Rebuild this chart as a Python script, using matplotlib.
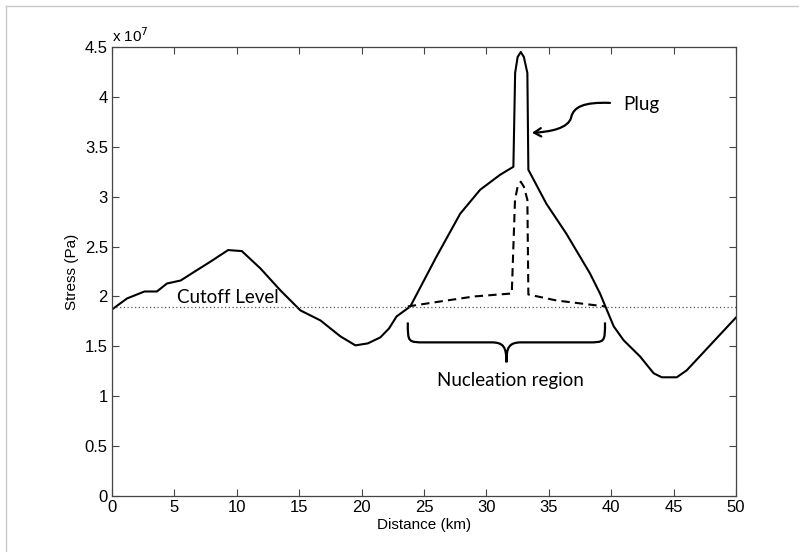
import matplotlib
matplotlib.use("Agg")
import matplotlib.pyplot as plt
from matplotlib.path import Path
from matplotlib.patches import FancyArrowPatch, PathPatch
from matplotlib.lines import Line2D

# stress values in units of 1e7 Pa
solid_km = [0, 1.2, 2.6, 3.6, 4.4, 5.5, 6.5, 7.9, 9.3, 10.4, 11.9, 13.5, 15.1,
            16.7, 18.3, 19.5, 20.5, 21.5, 22.2, 22.8, 23.9, 26.0, 27.9, 29.5, 31.1, 32.16,
            32.3, 32.5, 32.75, 33.0, 33.28, 33.36, 34.8, 36.4, 38.3, 39.1, 40.2,
            41.0, 42.3, 43.4, 44.05, 45.25, 46.05, 50]
solid_stress = [1.87, 1.98, 2.05, 2.05, 2.13, 2.16, 2.24, 2.35, 2.465, 2.455, 2.28,
                2.06, 1.86, 1.76, 1.60, 1.51, 1.53, 1.59, 1.68, 1.80, 1.90, 2.40, 2.83, 3.07,
                3.22, 3.30, 4.24, 4.40, 4.45, 4.40, 4.24, 3.27, 2.93, 2.63, 2.23,
                2.03, 1.70, 1.56, 1.40, 1.23, 1.19, 1.19, 1.26, 1.79]

dashed_km = [23.7, 26.3, 29.0, 32.03, 32.29, 32.5, 32.75, 33.0, 33.28, 33.36, 35.6, 39.5]
dashed_stress = [1.90, 1.95, 2.00, 2.03, 2.97, 3.10, 3.15, 3.10, 2.97, 2.02, 1.96, 1.90]

cutoff = 1.89
region_start, region_end = 23.7, 39.5

x_ticks = [0, 5, 10, 15, 20, 25, 30, 35, 40, 45, 50]
y_ticks = [0, 0.5, 1, 1.5, 2, 2.5, 3, 3.5, 4, 4.5]
y_tick_labels = ['0', '0.5', '1', '1.5', '2', '2.5', '3', '3.5', '4', '4.5']

axis_font = 'Liberation Sans'
note_font = 'Lato'

fig = plt.figure(figsize=(7.99, 5.52), dpi=100)
ax = fig.add_axes([0.1402, 0.1014, 0.7810, 0.8134])

ax.plot(solid_km, solid_stress, color='black', lw=1.5)
ax.plot(dashed_km, dashed_stress, color='black', lw=1.5, linestyle=(0, (4, 2.5)))
ax.axhline(cutoff, color='#555555', lw=0.9, linestyle=(0, (1, 2)))

ax.set_xlim(0, 50)
ax.set_ylim(0, 4.5)
ax.set_xticks(x_ticks)
ax.set_yticks(y_ticks)
ax.set_yticklabels(y_tick_labels)
ax.tick_params(direction='in', length=5, width=0.8, color='#444444',
               top=True, right=True, labelsize=12, pad=3)
for lab in ax.get_xticklabels() + ax.get_yticklabels():
    lab.set_family(axis_font)
for sp in ax.spines.values():
    sp.set_color('#444444')
    sp.set_linewidth(0.9)

ax.set_xlabel('Distance (km)', family=axis_font, fontsize=11, labelpad=2)
ax.set_ylabel('Stress (Pa)', family=axis_font, fontsize=11, labelpad=4)
ax.text(0.0, 1.005, r'x 10$^{7}$', transform=ax.transAxes, family=axis_font,
        fontsize=11, ha='left', va='bottom')

# annotations
ax.text(5.2, 1.99, 'Cutoff Level', family=note_font, fontsize=13.5, ha='left', va='center')
ax.text(31.9, 1.16, 'Nucleation region', family=note_font, fontsize=13.5,
        ha='center', va='center')
ax.text(41.0, 3.92, 'Plug', family=note_font, fontsize=13.5, ha='left', va='center')

# curly brace under the nucleation region
mid = (region_start + region_end) / 2
top_y, bar_y, tip_y = 1.74, 1.54, 1.34
brace = Path(
    [(region_start, top_y), (region_start, bar_y), (region_start, bar_y), (region_start + 1.4, bar_y),
     (mid - 1.2, bar_y),
     (mid - 0.2, bar_y), (mid, bar_y - 0.05), (mid, tip_y),
     (mid, bar_y - 0.05), (mid + 0.2, bar_y), (mid + 1.2, bar_y),
     (region_end - 1.4, bar_y),
     (region_end, bar_y), (region_end, bar_y), (region_end, top_y)],
    [Path.MOVETO, Path.CURVE4, Path.CURVE4, Path.CURVE4,
     Path.LINETO,
     Path.CURVE4, Path.CURVE4, Path.CURVE4,
     Path.CURVE4, Path.CURVE4, Path.CURVE4,
     Path.LINETO,
     Path.CURVE4, Path.CURVE4, Path.CURVE4])
ax.add_patch(PathPatch(brace, fill=False, color='black', lw=1.6))

# wavy arrow pointing at the plug
arrow_path = Path(
    [(39.9, 3.94), (37.8, 3.95), (37.0, 3.90), (36.8, 3.80),
     (36.6, 3.68), (35.0, 3.65), (33.65, 3.64)],
    [Path.MOVETO, Path.CURVE4, Path.CURVE4, Path.CURVE4,
     Path.CURVE4, Path.CURVE4, Path.CURVE4])
ax.add_patch(FancyArrowPatch(path=arrow_path, arrowstyle='->,head_length=5,head_width=3',
                             color='black', lw=1.6))

# light frame of the original screenshot
fig.add_artist(Line2D([6 / 799, 1], [1 - 6 / 552, 1 - 6 / 552], color='#c8c8c8', lw=1))
fig.add_artist(Line2D([6 / 799, 6 / 799], [0, 1 - 6 / 552], color='#c8c8c8', lw=1))

fig.savefig('out.png', dpi=100)
